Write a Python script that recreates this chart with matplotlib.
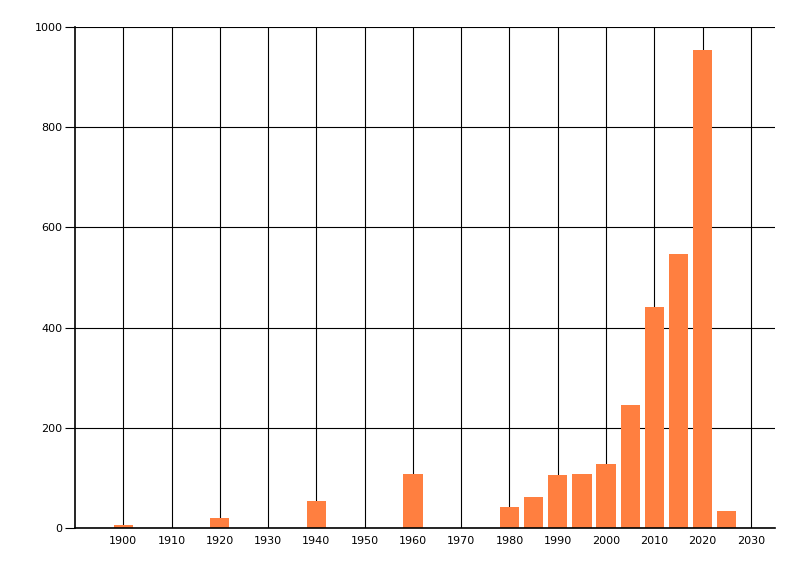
import matplotlib
matplotlib.use('Agg')
from matplotlib import pyplot as plt

years = [1900, 1920, 1940, 1960, 1980, 1985, 1990, 1995, 2000, 2005, 2010, 2015, 2020, 2025]
counts = [6, 20, 54, 108, 42, 62, 106, 108, 128, 245, 441, 547, 954, 34]

fig = plt.figure(figsize=(8, 5.76), dpi=100)
ax = fig.add_axes([0.09375, 0.0833, 0.875, 0.8698])

ax.set_axisbelow(True)
ax.bar(years, counts, width=4, color='#FF7F40', zorder=2)

ax.set_xlim(1890, 2035)
ax.set_ylim(0, 1000)
ax.set_xticks(range(1900, 2031, 10))
ax.set_yticks(range(0, 1001, 200))
ax.grid(True, color='black', linewidth=0.8)

for side in ['top', 'right']:
    ax.spines[side].set_visible(False)
for side in ['left', 'bottom']:
    ax.spines[side].set_linewidth(1.2)

ax.tick_params(axis='x', length=0, pad=6, labelsize=8)
ax.tick_params(axis='y', length=7, width=0.8, pad=2, labelsize=8)

plt.savefig('out.png', dpi=100)
